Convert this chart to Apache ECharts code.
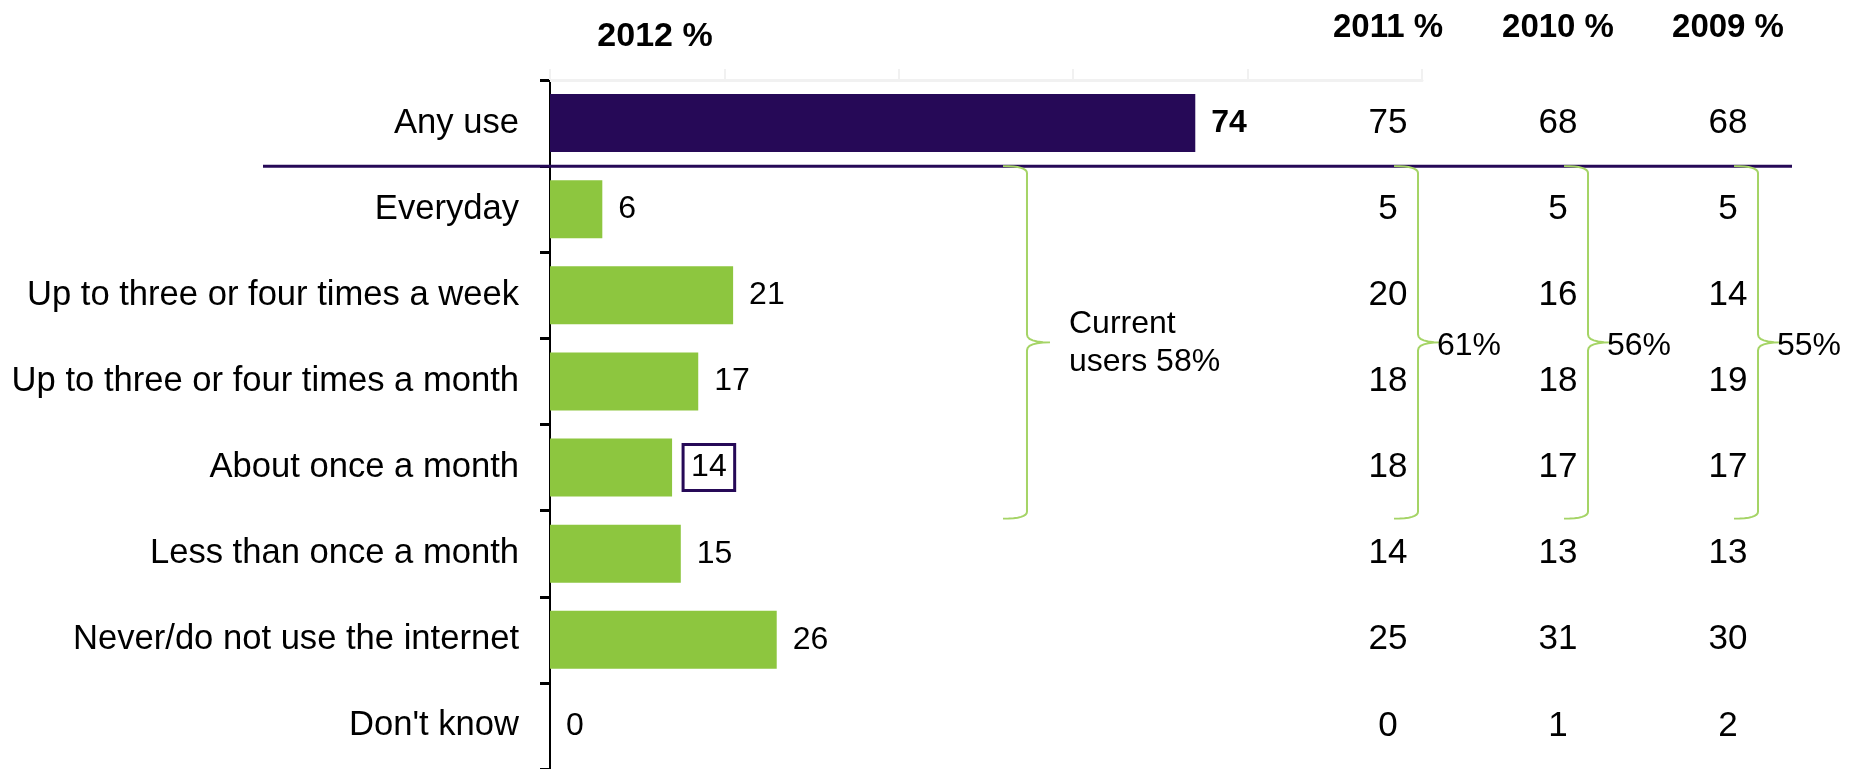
<!DOCTYPE html>
<html>
<head>
<meta charset="utf-8">
<script src="https://cdn.jsdelivr.net/npm/echarts@6/dist/echarts.min.js"></script>
<style>
  html, body { margin: 0; padding: 0; background: #ffffff; }
  #chart { width: 1863px; height: 769px; }
</style>
</head>
<body>
<div id="chart"></div>
<script>
// Frequency of internet use, 2012 bars with earlier years as columns
const categories = [
  'Any use',
  'Everyday',
  'Up to three or four times a week',
  'Up to three or four times a month',
  'About once a month',
  'Less than once a month',
  'Never/do not use the internet',
  "Don't know"
];
const values2012 = [74, 6, 21, 17, 14, 15, 26, 0];
const values2011 = [75, 5, 20, 18, 18, 14, 25, 0];
const values2010 = [68, 5, 16, 18, 17, 13, 31, 1];
const values2009 = [68, 5, 14, 19, 17, 13, 30, 2];
const yearHeaders = ['2012 %', '2011 %', '2010 %', '2009 %'];
// share of current users (Everyday .. About once a month), per year
const currentUsers = [58, 61, 56, 55];

const FONT = "'Liberation Sans', Arial, sans-serif";
const PURPLE = '#260957';
const GREEN = '#8dc63f';
const BRACE = '#a5d466';

const priorYears = yearHeaders.slice(1);
const priorValues = [values2011, values2010, values2009];

const barData = values2012.map((v, i) => {
  const item = { value: v, itemStyle: { color: i === 0 ? PURPLE : GREEN } };
  if (i === 0) item.label = { fontWeight: 'bold' };
  if (i === 4) {
    item.label = {
      borderColor: PURPLE, borderWidth: 3,
      padding: [8, 8, 6, 8], distance: 11
    };
  }
  return item;
});

const tableSeries = priorYears.map((yr, c) => ({
  type: 'scatter',
  xAxisIndex: 1,
  yAxisIndex: 1,
  symbolSize: 0,
  silent: true,
  itemStyle: { opacity: 1 },
  data: priorValues[c].map((v, r) => [yr, categories[r], v]),
  label: {
    show: true,
    position: 'inside',
    formatter: p => String(p.value[2]),
    fontFamily: FONT,
    fontSize: 35,
    color: '#000'
  }
}));

const chart = echarts.init(document.getElementById('chart'), null, { renderer: 'canvas' });

chart.setOption({
  animation: false,
  backgroundColor: '#ffffff',
  title: {
    text: yearHeaders[0],
    left: 650,
    top: 15,
    textAlign: 'center',
    textStyle: { fontFamily: FONT, fontSize: 34, fontWeight: 'bold', color: '#000' }
  },
  grid: [
    { left: 550, top: 80, width: 872, height: 689 },
    { left: 1303, top: 80, width: 510, height: 689 }
  ],
  xAxis: [
    {
      gridIndex: 0,
      type: 'value',
      min: 0,
      max: 100,
      interval: 20,
      position: 'top',
      axisLine: { show: true, lineStyle: { color: '#f1f1f1', width: 3 } },
      axisTick: { show: true, length: 11, lineStyle: { color: '#f1f1f1', width: 2 } },
      axisLabel: { show: false },
      splitLine: { show: false }
    },
    {
      gridIndex: 1,
      type: 'category',
      data: priorYears,
      position: 'top',
      axisLine: { show: false },
      axisTick: { show: false },
      axisLabel: {
        fontFamily: FONT, fontSize: 33, fontWeight: 'bold', color: '#000', margin: 36
      }
    }
  ],
  yAxis: [
    {
      gridIndex: 0,
      type: 'category',
      inverse: true,
      data: categories,
      axisLine: { show: true, lineStyle: { color: '#000', width: 2 } },
      axisTick: { show: true, length: 10, lineStyle: { color: '#000', width: 3 } },
      axisLabel: { fontFamily: FONT, fontSize: 34.6, color: '#000', margin: 31 }
    },
    {
      gridIndex: 1,
      type: 'category',
      inverse: true,
      data: categories,
      show: false
    }
  ],
  series: [
    {
      type: 'bar',
      xAxisIndex: 0,
      yAxisIndex: 0,
      barWidth: 58,
      data: barData,
      label: {
        show: true,
        position: 'right',
        distance: 16,
        fontFamily: FONT,
        fontSize: 32,
        color: '#000'
      }
    }
  ].concat(tableSeries)
});

// Separator under "Any use" and the curly braces grouping current users
function quad(p0, c, p1, n) {
  const pts = [];
  for (let k = 1; k <= n; k++) {
    const t = k / n, u = 1 - t;
    pts.push([
      u * u * p0[0] + 2 * u * t * c[0] + t * t * p1[0],
      u * u * p0[1] + 2 * u * t * c[1] + t * t * p1[1]
    ]);
  }
  return pts;
}

function drawOverlays() {
  const c0 = chart.convertToPixel({ yAxisIndex: 0 }, categories[0]);
  const c1 = chart.convertToPixel({ yAxisIndex: 0 }, categories[1]);
  const c4 = chart.convertToPixel({ yAxisIndex: 0 }, categories[4]);
  const band = c1 - c0;
  const sepY = c0 + band / 2;
  const top = sepY;
  const bottom = c4 + band / 2 + 8;
  const mid = (top + bottom) / 2;

  function bracePoints(x) {
    const h = 24, w = 23;
    let pts = [[x - h, top]];
    pts = pts.concat(quad([x - h, top], [x, top], [x, top + 7], 8));
    pts.push([x, mid - 8]);
    pts = pts.concat(quad([x, mid - 8], [x, mid], [x + w, mid], 6));
    pts = pts.concat(quad([x + w, mid], [x, mid], [x, mid + 8], 6));
    pts.push([x, bottom - 7]);
    pts = pts.concat(quad([x, bottom - 7], [x, bottom], [x - h, bottom], 8));
    return pts;
  }

  const braceXs = [chart.convertToPixel({ xAxisIndex: 0 }, 54.7)];
  priorYears.forEach(yr => braceXs.push(chart.convertToPixel({ xAxisIndex: 1 }, yr) + 30));

  const elements = [{
    type: 'line',
    z: 10,
    shape: { x1: 263, y1: sepY, x2: 1792, y2: sepY },
    style: { stroke: PURPLE, lineWidth: 3 }
  }];

  braceXs.forEach((x, i) => {
    elements.push({
      type: 'polyline',
      z: 11,
      shape: { points: bracePoints(x) },
      style: { fill: null, stroke: BRACE, lineWidth: 2 }
    });
    elements.push({
      type: 'text',
      z: 11,
      x: i === 0 ? x + 42 : x + 19,
      y: i === 0 ? mid + 1 : mid + 4,
      style: {
        text: i === 0 ? 'Current\nusers ' + currentUsers[i] + '%' : currentUsers[i] + '%',
        fontFamily: FONT,
        fontSize: 32,
        lineHeight: 38,
        fill: '#000',
        verticalAlign: 'middle',
        align: 'left'
      }
    });
  });

  chart.setOption({ graphic: elements });
}

drawOverlays();
</script>
</body>
</html>
